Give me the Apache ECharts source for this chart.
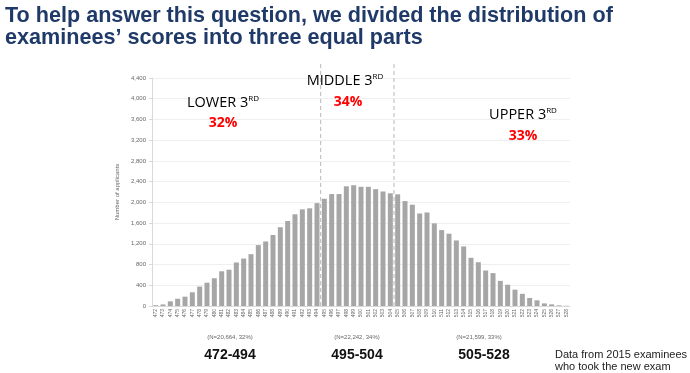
<!DOCTYPE html>
<html>
<head>
<meta charset="utf-8">
<script src="https://cdn.jsdelivr.net/npm/echarts@6/dist/echarts.min.js"></script>
<style>
html,body{margin:0;padding:0;background:#fff;}
#chart{width:690px;height:373px;}
</style>
</head>
<body>
<div id="chart"></div>
<script>
// Score categories
const scores = ['472','473','474','475','476','477','478','479','480','481','482','483','484','485','486','487','488','489','490','491','492','493','494','495','496','497','498','499','500','501','502','503','504','505','506','507','508','509','510','511','512','513','514','515','516','517','518','519','520','521','522','523','524','525','526','527','528'];
// Number of applicants per score
const applicants = [15,30,90,140,180,265,375,450,535,670,700,840,915,1000,1175,1245,1370,1520,1640,1770,1865,1885,1985,2070,2160,2160,2310,2330,2300,2300,2255,2210,2175,2155,2025,1955,1785,1805,1595,1465,1395,1265,1150,930,845,685,635,485,410,315,235,155,110,50,32,13,5];
// Boundaries between the thirds (in bar-slot units from the left edge)
const boundaries = [23, 33];

const chart = echarts.init(document.getElementById('chart'));
const L = 152, R = 120, B = 67;
const annFont = 'Open Sans';

function heading(x, y, word) {
  return {type: 'text', x: x, y: y, z: 100, style: {text: '{a|' + word + ' 3}{s|RD}', align: 'center', verticalAlign: 'middle',
    rich: {a: {fontFamily: annFont, fontSize: 14.5, color: '#333', lineHeight: 19},
           s: {fontFamily: annFont, fontSize: 8, color: '#333', lineHeight: 19, verticalAlign: 'top', padding: [1,0,0,0]}}}};
}
function pct(x, y, t) {
  return {type: 'text', x: x, y: y, z: 100, style: {text: t, align: 'center', verticalAlign: 'middle', fontFamily: annFont, fontWeight: 'bold', fontSize: 14, fill: '#ff0000'}};
}
function small(x, y, t) {
  return {type: 'text', x: x, y: y, style: {text: t, align: 'center', verticalAlign: 'middle', fontFamily: 'Liberation Sans', fontSize: 6, fill: '#666'}};
}
function range(x, y, t) {
  return {type: 'text', x: x, y: y, style: {text: t, align: 'center', verticalAlign: 'middle', fontFamily: 'Liberation Sans', fontWeight: 'bold', fontSize: 14, fill: '#111'}};
}

const option = {
  backgroundColor: '#ffffff',
  animation: false,
  title: {
    text: 'To help answer this question, we divided the distribution of\nexaminees\u2019 scores into three equal parts',
    left: 0, top: 0,
    textStyle: {fontFamily: 'Liberation Sans', fontWeight: 'bold', fontSize: 21.6, color: '#1f3a68', lineHeight: 22}
  },
  grid: [
    {left: L, right: R, top: 78, bottom: B},
    {left: L, right: R, top: 62, bottom: B}
  ],
  xAxis: [
    {
      type: 'category', gridIndex: 0, data: scores,
      axisLine: {show: true, lineStyle: {color: '#d9d9d9'}},
      axisTick: {show: false},
      axisLabel: {interval: 0, rotate: 90, fontSize: 5, color: '#666', margin: 3, fontFamily: 'Liberation Sans'}
    },
    {type: 'value', gridIndex: 1, min: 0, max: scores.length, show: false}
  ],
  yAxis: [
    {
      type: 'value', gridIndex: 0, min: 0, max: 4400, interval: 400,
      name: 'Number of applicants', nameLocation: 'middle', nameGap: 27,
      nameTextStyle: {fontSize: 6, color: '#666', fontFamily: 'Liberation Sans'},
      axisLine: {show: true, lineStyle: {color: '#d9d9d9'}},
      axisTick: {show: true, length: 3, lineStyle: {color: '#d9d9d9'}},
      axisLabel: {fontSize: 6, color: '#666', margin: 6, fontFamily: 'Liberation Sans',
        formatter: v => v.toLocaleString('en-US')},
      splitLine: {lineStyle: {color: '#efefef'}}
    },
    {type: 'value', gridIndex: 1, min: 0, max: 1, show: false}
  ],
  series: [
    {
      type: 'bar', xAxisIndex: 0, yAxisIndex: 0, data: applicants,
      barCategoryGap: '32%',
      itemStyle: {color: '#a6a6a6'}
    },
    ...boundaries.map(b => ({
      type: 'line', xAxisIndex: 1, yAxisIndex: 1,
      data: [[b, 0], [b, 1]], symbol: 'none',
      lineStyle: {color: '#b8b8b8', width: 1, type: [4, 3]}
    }))
  ],
  graphic: [
    heading(223, 103, 'LOWER'), pct(223, 123, '32%'),
    heading(345, 81, 'MIDDLE'), pct(348, 102, '34%'),
    heading(523, 115, 'UPPER'), pct(523, 136, '33%'),
    small(230, 337, '(N=20,664, 32%)'),
    small(357, 337, '(N=22,242, 34%)'),
    small(479, 337, '(N=21,599, 33%)'),
    range(230, 355, '472-494'),
    range(357, 355, '495-504'),
    range(484, 355, '505-528'),
    {type: 'text', x: 555, y: 355, style: {text: 'Data from 2015 examinees', align: 'left', verticalAlign: 'middle', fontFamily: 'Liberation Sans', fontSize: 11, fill: '#222'}},
    {type: 'text', x: 555, y: 367, style: {text: 'who took the new exam', align: 'left', verticalAlign: 'middle', fontFamily: 'Liberation Sans', fontSize: 11, fill: '#222'}}
  ]
};
chart.setOption(option);
</script>
</body>
</html>
